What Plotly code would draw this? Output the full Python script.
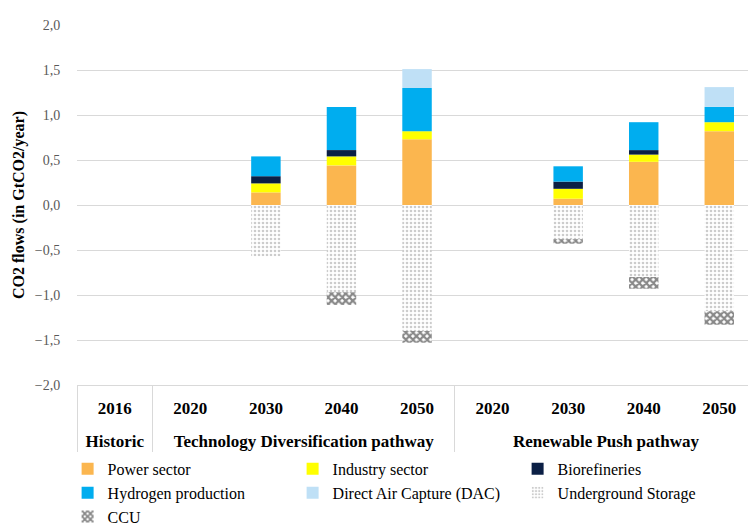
import plotly.graph_objects as go

groups = ["Historic"] + ["Technology Diversification pathway"] * 4 + ["Renewable Push pathway"] * 4
years = ["2016", "2020", "2030", "2040", "2050", "2020", "2030", "2040", "2050"]

power = [None, None, 0.14, 0.44, 0.73, None, 0.07, 0.48, 0.82]
industry = [None, None, 0.10, 0.10, 0.09, None, 0.11, 0.08, 0.10]
biorefineries = [None, None, 0.08, 0.07, 0.0, None, 0.08, 0.05, 0.0]
hydrogen = [None, None, 0.22, 0.48, 0.48, None, 0.17, 0.31, 0.17]
dac = [None, None, 0.0, 0.0, 0.21, None, 0.0, 0.0, 0.22]
underground = [None, None, -0.57, -0.97, -1.40, None, -0.38, -0.80, -1.18]
ccu = [None, None, 0.0, -0.14, -0.13, None, -0.05, -0.13, -0.15]

series = [
    ("Power sector", power, "#FBB64F", None),
    ("Industry sector", industry, "#FFFF00", None),
    ("Biorefineries", biorefineries, "#0B1F45", None),
    ("Hydrogen production", hydrogen, "#00ADEF", None),
    ("Direct Air Capture (DAC)", dac, "#BFE0F6", None),
    ("Underground Storage", underground, "#FFFFFF",
     dict(shape=".", fgcolor="#9a9a9a", bgcolor="#FFFFFF", size=4, solidity=0.35)),
    ("CCU", ccu, "#FFFFFF",
     dict(shape="x", fgcolor="#111111", bgcolor="#FFFFFF", size=5, solidity=0.7)),
]

# year labels padded with a small empty second line to open up space between the two label rows
year_labels = [y + "<br><span style='font-size:9px'>&nbsp;</span>" for y in years]
x = [groups, year_labels]

fig = go.Figure()
for name, vals, color, pattern in series:
    marker = dict(color=color, line=dict(width=0))
    if pattern:
        marker["pattern"] = pattern
    fig.add_trace(go.Bar(name=name, x=x, y=vals, marker=marker))

serif = "Liberation Serif, Times New Roman, serif"
fig.update_layout(
    width=748, height=527,
    barmode="relative",
    bargap=0.61,
    separators=", ",
    plot_bgcolor="white",
    paper_bgcolor="white",
    font=dict(family=serif, size=14, color="black"),
    margin=dict(l=77, r=0, t=25, b=142, autoexpand=False),
    legend=dict(
        orientation="h", x=-0.014, xanchor="left", y=-0.186, yanchor="top",
        entrywidth=180, entrywidthmode="pixels", itemwidth=30,
        font=dict(family=serif, size=16, color="black"),
        tracegroupgap=0,
    ),
)
fig.update_yaxes(
    range=[-2, 2], dtick=0.5, tickformat=".1f",
    showgrid=True, gridcolor="#d9d9d9", gridwidth=1,
    zeroline=True, zerolinecolor="#d9d9d9", zerolinewidth=1,
    tickfont=dict(family=serif, size=14, color="#595959"),
    ticks="outside", ticklen=13, tickcolor="rgba(0,0,0,0)",
    title=dict(text="<b>CO2 flows (in GtCO2/year)</b>",
               font=dict(family=serif, size=16, color="black"), standoff=6),
)
fig.update_xaxes(
    type="multicategory",
    range=[-0.5, 8.38],
    showline=True, linecolor="#d9d9d9",
    showdividers=True, dividercolor="#d9d9d9", dividerwidth=1,
    tickfont=dict(family=serif, size=17, color="black", weight="bold"),
    ticklabelstandoff=8,
)

fig.write_html("out.html", config={"displayModeBar": False},
               post_script="document.body.style.margin='0px';")
